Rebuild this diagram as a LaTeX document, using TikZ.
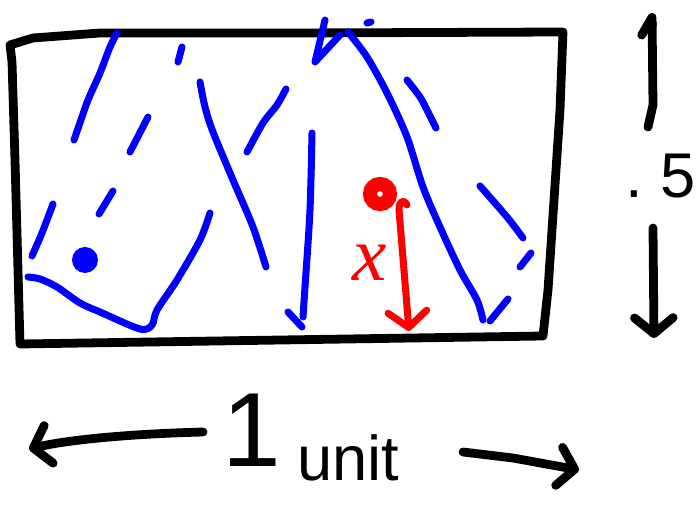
\documentclass[tikz,border=0pt]{standalone}
\usepackage{fontspec}
\setmainfont{Liberation Sans}
\newfontfamily\handserif{Liberation Serif}
\usetikzlibrary{arrows.meta}

\tikzset{
  ink/.style={line width=5pt, line cap=round, line join=round},
  rain/.style={ink, blue, line width=4pt},
  redink/.style={ink, red, line width=4pt},
  barb/.style={-{Straight Barb[length=9pt,width=22pt,line cap=round,line join=round]}},
  halfbarb/.style={-{Straight Barb[left,length=10pt,width=12pt,line cap=round,line join=round]}},
  handtext/.style={inner sep=0pt, font=\fontsize{#1}{#1}\selectfont},
  handtext/.default=36
}

\begin{document}
\begin{tikzpicture}[x=0.02cm, y=-0.02cm]
\useasboundingbox (0,0) rectangle (697,509);

% Boite
\draw[ink] (12,62) -- (10,45) -- (33,38) -- (100,33) -- (300,33) -- (563,32)
  -- (560,110) -- (548,290) -- (543,336) -- (20,344) -- (15,160) -- cycle;

% Traits bleus
\draw[rain] plot[smooth, tension=0.5] coordinates {(117,33) (110,47) (100,73) (88,100) (82,117) (74,140)};
\draw[rain] (182,47) -- (178,62);
\draw[rain] (148,117) -- (130,152);
\draw[rain] (113,191) -- (99,214);
\draw[rain] plot[smooth, tension=0.5] coordinates {(53,204) (42,233) (32,256)};
\fill[blue] (85,260) circle (13);
\draw[rain] plot[smooth, tension=0.5] coordinates {(28,277) (40,279) (57,287) (80,303) (100,312)
  (140,329) (152,325) (157,310) (177,280) (200,240) (210,213)};
\draw[rain] plot[smooth, tension=0.5] coordinates {(200,82) (205,107) (213,132) (233,180) (253,227) (266,267)};
\draw[rain] plot[smooth, tension=0.5] coordinates {(286,89) (277,105) (263,123) (247,152)};
\draw[rain] (288,312) -- (302,327);
\draw[rain] (325,20) -- (315,62) -- (340,35);
\draw[rain] (367,23) -- (371,22);
\draw[rain] plot[smooth, tension=0.5] coordinates {(348,32) (367,57) (387,93) (407,137) (423,187)
  (440,227) (460,270) (477,300) (483,320)};
\draw[rain] plot[smooth, tension=0.5] coordinates {(312,133) (310,210) (305,287) (303,317)};
\draw[rain] plot[smooth, tension=0.5] coordinates {(407,80) (420,97) (427,110) (436,128)};
\draw[rain] plot[smooth, tension=0.5] coordinates {(480,186) (507,217) (523,238)};
\draw[rain] (531,253) -- (520,267);
\draw[rain] (508,299) -- (490,321);

% Point rouge et distance x
\node[circle, draw=red, line width=8pt, minimum size=0.4cm, inner sep=0pt] (src) at (380,194) {};
\coordinate (hook) at (407,205);
\coordinate (xbot) at (409,331);
\draw[redink, barb] (hook) .. controls (404,199) and (399,200) .. (399,210) -- (xbot);
\node[handtext=44, text=red] (xlab) at (370,263) {\handserif\itshape x};

% Hauteur .5
\node[handtext=36, anchor=base west] (half) at (625,198) {.\kern10pt5};
\coordinate (vtop) at (652,13);
\coordinate (vbot) at (654,338);
\draw[ink, halfbarb] (648,127) -- (653,105) -- (vtop);
\draw[ink, barb] (653,228) -- (vbot);

% Largeur 1 unit
\node[handtext=60] (one) at (252,430) {1};
\node[handtext] (unit) at (348,458) {unit};
\coordinate (hleft) at (29,449);
\coordinate (hright) at (579,470);
\draw[ink, barb] (203,432) .. controls (127,434) and (67,440) .. (hleft);
\draw[ink, barb] (463,452) -- (513,458) -- (hright);
\end{tikzpicture}
\end{document}
